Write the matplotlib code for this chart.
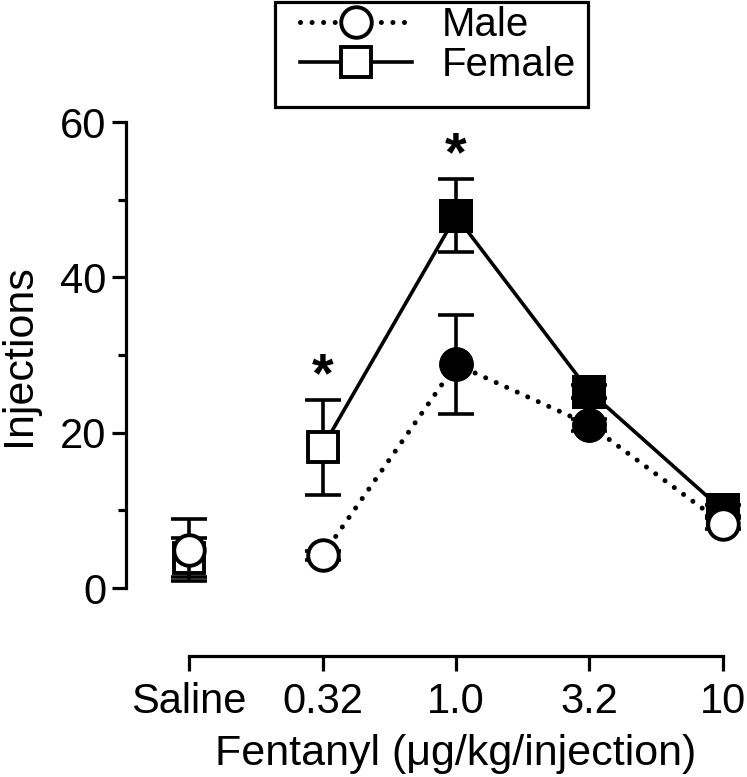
import matplotlib
matplotlib.use("Agg")
import matplotlib.pyplot as plt
from matplotlib.lines import Line2D
from matplotlib.patches import Rectangle
from matplotlib.ticker import MultipleLocator

# ─── Data ─────────────────────────────────────────────────────────────────────
DOSES = ["Saline", "0.32", "1.0", "3.2", "10"]
DOSE_POS = [0, 1, 2, 3, 4]

MALE_MEAN = [4.9, 4.2, 28.8, 21.0, 8.3]
MALE_SEM = [4.0, 0.6, 6.4, 0.8, 0.7]

FEMALE_MEAN = [3.9, 18.1, 47.9, 25.3, 10.0]
FEMALE_SEM = [2.5, 6.1, 4.7, 0.8, 0.7]

# significance markers (dose position, y value)
SIG_X = [1, 2]
SIG_Y = [27.1, 55.6]

# ─── Style ────────────────────────────────────────────────────────────────────
plt.rcParams["font.family"] = ["Liberation Sans", "DejaVu Sans"]
FS = 30
LW = 2.6
DOT = (0, (0.01, 2.3))

W, H = 747, 777
fig = plt.figure(figsize=(W / 100, H / 100), dpi=100)

# axes placed in pixel terms
x_left, x_right = 126, 743
y_top, y_bot = 122, 588
ax = fig.add_axes([x_left / W, 1 - y_bot / H, (x_right - x_left) / W, (y_bot - y_top) / H])
ax.set_xlim(-0.472, 4.15)
ax.set_ylim(0, 60)

# female (drawn first, male on top)
ax.plot(DOSE_POS[1:], FEMALE_MEAN[1:], color="black", lw=LW, zorder=2)
ax.errorbar(DOSE_POS, FEMALE_MEAN, yerr=FEMALE_SEM, fmt="none", ecolor="black",
            elinewidth=LW, capsize=13, capthick=LW, zorder=3, clip_on=False)
ax.plot(DOSE_POS, FEMALE_MEAN, ls="none", marker="s", ms=21, mew=2.8,
        mec="black", mfc="white", zorder=4, clip_on=False)
# filled markers for the 1.0 - 10 doses
ax.plot(DOSE_POS[2:], FEMALE_MEAN[2:], ls="none", marker="s", ms=21, mew=2.8,
        mec="black", mfc="black", zorder=4, clip_on=False)

ax.plot(DOSE_POS[1:], MALE_MEAN[1:], color="black", lw=3.6, ls=DOT,
        dash_capstyle="round", zorder=5)
ax.errorbar(DOSE_POS, MALE_MEAN, yerr=MALE_SEM, fmt="none", ecolor="black",
            elinewidth=LW, capsize=13, capthick=LW, zorder=6, clip_on=False)
ax.plot(DOSE_POS, MALE_MEAN, ls="none", marker="o", ms=22, mew=2.8,
        mec="black", mfc="white", zorder=7, clip_on=False)
ax.plot(DOSE_POS[2:4], MALE_MEAN[2:4], ls="none", marker="o", ms=22, mew=2.8,
        mec="black", mfc="black", zorder=7, clip_on=False)

for sx, sy in zip(SIG_X, SIG_Y):
    ax.text(sx, sy, "*", ha="center", va="center", fontsize=40, fontweight="bold")

# ─── Axes ─────────────────────────────────────────────────────────────────────
for s in ["top", "right"]:
    ax.spines[s].set_visible(False)
ax.spines["left"].set_linewidth(2.3)
ax.spines["bottom"].set_linewidth(2.3)
ax.spines["left"].set_bounds(0, 60)
ax.spines["bottom"].set_bounds(0, 4)
ax.spines["bottom"].set_position(("outward", 49))

ax.set_xticks(DOSE_POS)
ax.set_xticklabels(DOSES)
ax.yaxis.set_major_locator(MultipleLocator(20))
ax.yaxis.set_minor_locator(MultipleLocator(10))
ax.tick_params(axis="both", which="major", width=2.3, length=10, labelsize=FS, pad=4)
ax.tick_params(axis="y", which="minor", width=2.3, length=6)
ax.tick_params(axis="x", length=11, pad=7.5)

ax.set_ylabel("Injections", fontsize=FS + 1)
ax.yaxis.set_label_coords(-0.1405, 0.5)
ax.set_xlabel("Fentanyl (\u03bcg/kg/injection)", fontsize=FS + 1)
ax.xaxis.set_label_coords(0.535, -0.313)

# ─── Legend ───────────────────────────────────────────────────────────────────
handles = [
    Line2D([0], [0], color="black", lw=3.6, ls=DOT, dash_capstyle="round",
           marker="o", ms=22, mew=2.8, mec="black", mfc="white", label="Male"),
    Line2D([0], [0], color="black", lw=LW, marker="s", ms=21, mew=2.8,
           mec="black", mfc="white", label="Female"),
]
leg = fig.legend(handles=handles, loc="upper left", bbox_to_anchor=(300 / W, 1 - 6 / H),
                 borderaxespad=0, borderpad=0, fontsize=29, frameon=False,
                 handlelength=2.78, handletextpad=0.75, labelspacing=0.05)
# legend frame drawn separately (wider side padding than top/bottom)
fig.patches.append(Rectangle((275 / W, 1 - 107 / H), (588 - 275) / W, 105 / H,
                             transform=fig.transFigure, fill=False,
                             edgecolor="black", linewidth=2.3))

fig.savefig("out.png", dpi=100)
